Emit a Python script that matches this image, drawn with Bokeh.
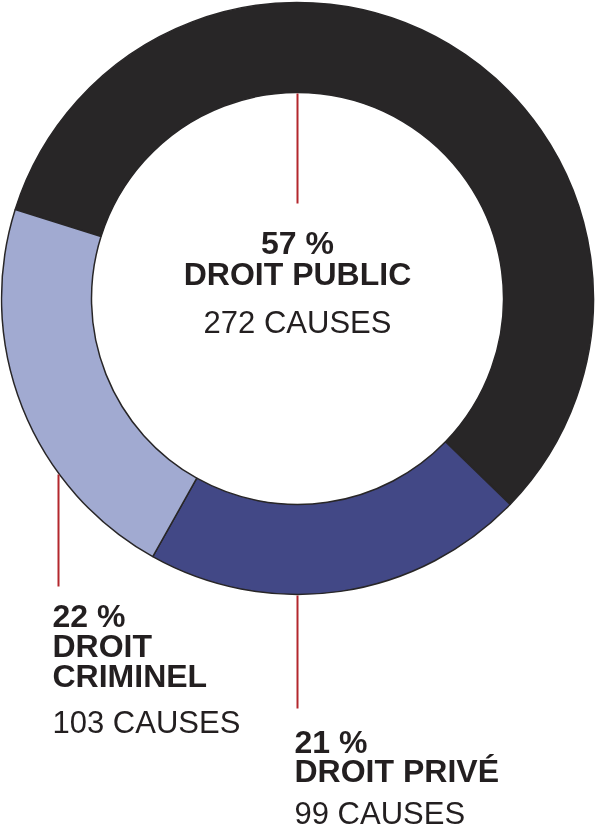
import numpy as np
from bokeh.plotting import figure
from bokeh.models import Range1d, ColumnDataSource
from bokeh.core.properties import value
from bokeh.embed import file_html
from bokeh.resources import INLINE

# ---- data ----
categories = ["DROIT PUBLIC", "DROIT PRIVÉ", "DROIT CRIMINEL"]
causes = [272, 99, 103]
percent_labels = ["57 %", "21 %", "22 %"]
name_lines = [["DROIT PUBLIC"], ["DROIT PRIVÉ"], ["DROIT", "CRIMINEL"]]
colors = ["#282627", "#424886", "#a1aad1"]

W, H = 598, 832
FONT = "Liberation Sans"

p = figure(width=W, height=H, x_range=Range1d(0, W), y_range=Range1d(0, H),
           output_backend="svg", toolbar_location=None, min_border=0)
p.axis.visible = False
p.grid.visible = False
p.outline_line_color = None
p.background_fill_color = "white"
p.border_fill_color = "white"
p.styles = {"position": "fixed", "left": "0px", "top": "0px"}

def Y(y):  # top-down pixel to data
    return H - y

cx, cy = 297, 298
r_out, r_in = 296, 206

vals = np.array(causes, dtype=float)
frac = vals / vals.sum()
start_deg = 162.5
ends = start_deg - np.cumsum(frac) * 360
starts = np.concatenate([[start_deg], ends[:-1]])
src = ColumnDataSource(dict(
    x=[cx] * 3, y=[Y(cy)] * 3,
    start=np.radians(ends), end=np.radians(starts),
    color=colors, cat=categories,
))
p.annular_wedge(x="x", y="y", inner_radius=r_in, outer_radius=r_out,
                start_angle="start", end_angle="end", direction="anticlock",
                fill_color="color", line_color="#282627", line_width=1.5,
                source=src)

# leader lines
red = "#b3272d"
lead = dict(x0=[297, 297, 58], y0=[Y(93), Y(595), Y(474)],
            x1=[297, 297, 58], y1=[Y(203), Y(708), Y(586)])
p.segment(x0="x0", y0="y0", x1="x1", y1="y1", source=ColumnDataSource(lead),
          line_color=red, line_width=2)

# labels
dy = -12
layout = [
    dict(x=297, align="center", pct=254, names=[285], cz=334),
    dict(x=294, align="left", pct=753, names=[782], cz=825),
    dict(x=52, align="left", pct=627, names=[657, 687], cz=734),
]

for i, L in enumerate(layout):
    bold_txt = [percent_labels[i]] + name_lines[i]
    bold_y = [L["pct"]] + L["names"]
    p.text(x=[L["x"]] * len(bold_txt), y=[Y(v + dy) for v in bold_y], text=bold_txt,
           text_font=value(FONT), text_font_style="bold", text_font_size="32px",
           text_color="#231f20", text_align=L["align"], text_baseline="alphabetic")
    p.text(x=[L["x"]], y=[Y(L["cz"] + dy)], text=[f"{causes[i]} CAUSES"],
           text_font=value(FONT), text_font_style="normal", text_font_size="31px",
           text_color="#231f20", text_align=L["align"], text_baseline="alphabetic")

open("out.html", "w").write(file_html(p, INLINE))
